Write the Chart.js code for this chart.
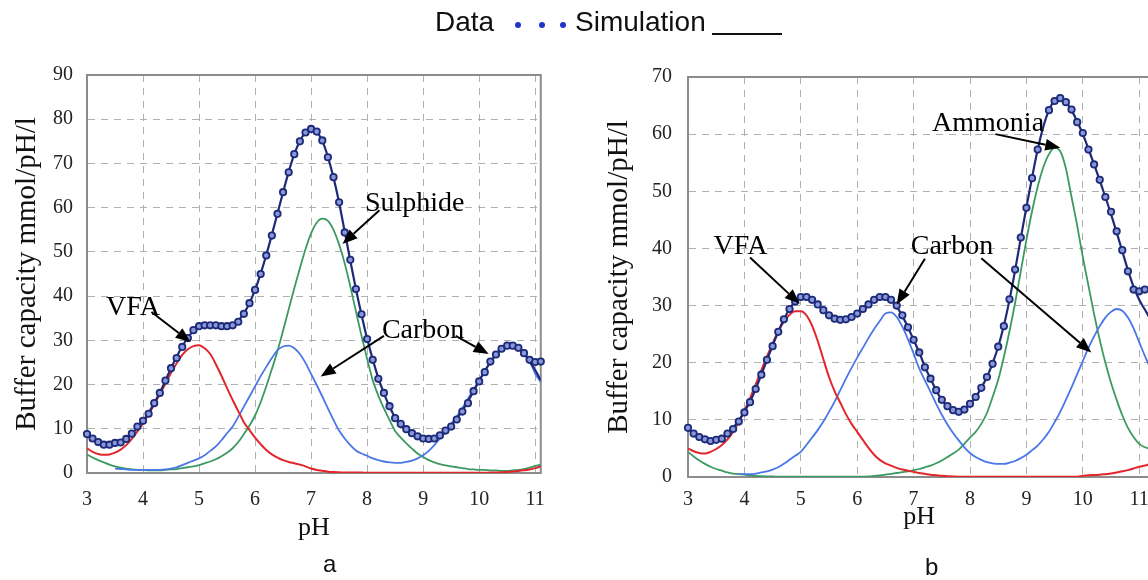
<!DOCTYPE html>
<html>
<head>
<meta charset="utf-8">
<script src="https://cdn.jsdelivr.net/npm/chart.js@4.4.1/dist/chart.umd.min.js"></script>
<style>
  html, body { margin: 0; padding: 0; background: #fff; overflow: hidden; }
  #page { position: relative; width: 1148px; height: 580px; overflow: hidden; }
  canvas { position: absolute; top: 0; }
  #chartA { left: 0; }
  #chartB { left: 580px; }
  .txt { position: absolute; font-family: Arial, 'Liberation Sans', sans-serif; color: #111; white-space: nowrap; }
  .head { font-size: 28px; line-height: 28px; top: 8px; }
  .cap { font-size: 24px; line-height: 24px; }
  .dot { position: absolute; width: 6px; height: 6px; border-radius: 50%; background: #1f35c9; top: 22px; }
  .rule { position: absolute; left: 712px; top: 33px; width: 70px; height: 2px; background: #111; }
</style>
</head>
<body>
<div id="page">
  <canvas id="chartA" width="560" height="580"></canvas>
  <canvas id="chartB" width="590" height="580"></canvas>

  <div class="txt head" style="left:435px">Data</div>
  <div class="dot" style="left:515px"></div>
  <div class="dot" style="left:539px"></div>
  <div class="dot" style="left:560px"></div>
  <div class="txt head" style="left:575px">Simulation</div>
  <div class="rule"></div>

  <div class="txt cap" style="left:323px; top:552px">a</div>
  <div class="txt cap" style="left:925px; top:555px">b</div>
</div>

<script>
// pH values (x axis) for both panels
const PH_A = [3.0, 3.1, 3.2, 3.3, 3.4, 3.5, 3.6, 3.7, 3.8, 3.9,
  4.0, 4.1, 4.2, 4.3, 4.4, 4.5, 4.6, 4.7, 4.8, 4.9,
  5.0, 5.1, 5.2, 5.3, 5.4, 5.5, 5.6, 5.7, 5.8, 5.9,
  6.0, 6.1, 6.2, 6.3, 6.4, 6.5, 6.6, 6.7, 6.8, 6.9,
  7.0, 7.1, 7.2, 7.3, 7.4, 7.5, 7.6, 7.7, 7.8, 7.9,
  8.0, 8.1, 8.2, 8.3, 8.4, 8.5, 8.6, 8.7, 8.8, 8.9,
  9.0, 9.1, 9.2, 9.3, 9.4, 9.5, 9.6, 9.7, 9.8, 9.9,
  10.0, 10.1, 10.2, 10.3, 10.4, 10.5, 10.6, 10.7, 10.8, 10.9,
  11.0, 11.1];
const PH_B = [3.0, 3.1, 3.2, 3.3, 3.4, 3.5, 3.6, 3.7, 3.8, 3.9,
  4.0, 4.1, 4.2, 4.3, 4.4, 4.5, 4.6, 4.7, 4.8, 4.9,
  5.0, 5.1, 5.2, 5.3, 5.4, 5.5, 5.6, 5.7, 5.8, 5.9,
  6.0, 6.1, 6.2, 6.3, 6.4, 6.5, 6.6, 6.7, 6.8, 6.9,
  7.0, 7.1, 7.2, 7.3, 7.4, 7.5, 7.6, 7.7, 7.8, 7.9,
  8.0, 8.1, 8.2, 8.3, 8.4, 8.5, 8.6, 8.7, 8.8, 8.9,
  9.0, 9.1, 9.2, 9.3, 9.4, 9.5, 9.6, 9.7, 9.8, 9.9,
  10.0, 10.1, 10.2, 10.3, 10.4, 10.5, 10.6, 10.7, 10.8, 10.9,
  11.0, 11.1, 11.2];

// panel a: buffer capacity, mmol/pH/l
const DATA_A = [8.8, 7.8, 7.0, 6.4, 6.4, 6.8, 6.9, 7.7, 8.9, 10.5,
  11.8, 13.4, 15.8, 18.1, 20.9, 23.7, 26.0, 28.5, 30.5, 32.3,
  33.2, 33.4, 33.4, 33.4, 33.2, 33.2, 33.4, 34.2, 36.0, 38.4,
  41.4, 45.0, 49.2, 53.7, 58.6, 63.5, 68.0, 72.1, 75.0, 77.0,
  77.8, 77.2, 75.2, 71.4, 66.9, 61.2, 54.4, 48.2, 41.6, 35.9,
  30.3, 25.6, 21.3, 18.1, 15.1, 12.4, 11.1, 9.9, 9.0, 8.3,
  7.8, 7.7, 7.8, 8.5, 9.6, 10.5, 12.1, 13.9, 15.8, 18.5,
  20.7, 22.8, 25.2, 26.8, 28.1, 28.8, 28.8, 28.3, 27.1, 25.6,
  25.1, 25.2];
const SIM_A = [8.6, 7.6, 6.9, 6.5, 6.4, 6.6, 7.1, 7.8, 8.9, 10.2,
  11.8, 13.6, 15.8, 18.2, 20.9, 23.7, 26.3, 28.6, 30.6, 32.1,
  33.0, 33.4, 33.5, 33.4, 33.2, 33.2, 33.6, 34.5, 36.1, 38.4,
  41.4, 45.1, 49.3, 53.9, 58.7, 63.5, 68.1, 72.1, 75.1, 77.0,
  77.7, 77.1, 75.1, 71.5, 66.8, 61.1, 54.6, 48.0, 41.6, 35.8,
  30.4, 25.7, 21.5, 18.0, 15.0, 12.6, 10.9, 9.7, 8.8, 8.2,
  7.8, 7.7, 7.9, 8.4, 9.4, 10.7, 12.3, 14.1, 16.2, 18.5,
  20.8, 23.0, 25.1, 26.8, 28.1, 28.8, 28.8, 28.2, 27.0, 25.2,
  23.3, 21.0];
const VFA_A = [5.6, 4.8, 4.3, 4.1, 4.2, 4.6, 5.3, 6.3, 7.7, 9.4,
  11.2, 13.3, 15.5, 17.8, 20.2, 22.6, 24.8, 26.7, 28.0, 28.7,
  28.9, 28.2, 26.9, 24.6, 22.0, 19.2, 16.5, 14.0, 11.5, 9.7,
  8.0, 6.5, 5.2, 4.2, 3.5, 2.9, 2.5, 2.2, 1.9, 1.5,
  1.0, 0.7, 0.5, 0.3, 0.2, 0.15, 0.1, 0.1, 0.1, 0.1,
  0.05, 0.05, 0.05, 0.05, 0.05, 0.05, 0.05, 0.05, 0.05, 0.05,
  0.05, 0.05, 0.05, 0.05, 0.05, 0.05, 0.05, 0.05, 0.05, 0.05,
  0.05, 0.05, 0.1, 0.1, 0.15, 0.25, 0.35, 0.45, 0.6, 0.8,
  1.1, 1.5];
const CARBON_A = [null, null, null, null, null, 1.0, 0.9, 0.8, 0.7, 0.7,
  0.7, 0.7, 0.7, 0.7, 0.8, 1.0, 1.3, 1.8, 2.3, 2.8,
  3.3, 4.0, 5.0, 6.0, 7.4, 9.0, 10.5, 12.7, 15.0, 17.3,
  19.6, 21.9, 24.0, 26.0, 27.8, 28.6, 28.8, 28.2, 26.9, 24.9,
  22.4, 19.9, 17.3, 14.6, 12.0, 9.6, 7.8, 6.3, 5.1, 4.4,
  3.9, 3.3, 2.9, 2.6, 2.4, 2.3, 2.3, 2.5, 2.8, 3.3,
  4.0, 5.0, 6.3, 7.8, 9.3, 11.1, 12.8, 14.7, 16.8, 18.9,
  21.0, 23.1, 25.0, 26.6, 27.9, 28.6, 28.9, 28.5, 27.3, 25.4,
  22.5, 20.5];
const SULPHIDE_A = [4.2, 3.5, 2.9, 2.4, 1.9, 1.5, 1.2, 1.0, 0.8, 0.7,
  0.7, 0.6, 0.6, 0.6, 0.7, 0.8, 0.9, 1.1, 1.3, 1.5,
  1.8, 2.2, 2.6, 3.1, 3.8, 4.6, 5.6, 7.0, 8.8, 10.7,
  13.0, 16.0, 19.6, 23.5, 27.6, 32.2, 37.0, 41.8, 46.3, 50.6,
  54.2, 56.6, 57.5, 57.0, 55.0, 51.7, 47.4, 42.2, 36.6, 31.0,
  25.8, 21.0, 17.5, 14.6, 12.0, 9.5, 8.0, 6.7, 5.5, 4.4,
  3.6, 2.9, 2.4, 2.0, 1.7, 1.5, 1.3, 1.1, 0.9, 0.8,
  0.7, 0.7, 0.6, 0.6, 0.5, 0.5, 0.6, 0.7, 0.9, 1.2,
  1.6, 1.9];

// panel b
const DATA_B = [8.6, 7.6, 7.0, 6.6, 6.3, 6.5, 6.7, 7.6, 8.4, 9.7,
  11.3, 13.1, 15.4, 17.9, 20.5, 22.9, 25.4, 27.6, 29.4, 30.7,
  31.5, 31.5, 31.0, 30.2, 29.2, 28.3, 27.7, 27.5, 27.6, 28.0,
  28.6, 29.4, 30.2, 31.0, 31.5, 31.5, 31.0, 30.0, 28.3, 26.2,
  24.0, 21.8, 19.2, 17.2, 15.2, 13.5, 12.4, 11.7, 11.4, 11.8,
  12.8, 14.0, 15.6, 17.5, 19.8, 22.8, 26.4, 31.1, 36.3, 41.9,
  47.1, 52.3, 57.3, null, 64.2, 65.8, 66.3, 65.6, 64.3, 62.1,
  60.2, 57.3, 54.7, 52.0, 49.0, 46.4, 43.0, 39.7, 36.0, 32.8,
  32.5, 32.8, null];
const SIM_B = [8.4, 7.6, 7.0, 6.6, 6.4, 6.5, 6.9, 7.6, 8.6, 9.9,
  11.4, 13.2, 15.4, 17.9, 20.5, 23.0, 25.4, 27.6, 29.4, 30.7,
  31.4, 31.5, 31.0, 30.1, 29.1, 28.2, 27.7, 27.5, 27.6, 28.0,
  28.6, 29.4, 30.2, 31.0, 31.5, 31.4, 30.9, 29.8, 28.2, 26.2,
  24.0, 21.8, 19.3, 17.2, 15.2, 13.5, 12.4, 11.7, 11.4, 11.8,
  12.8, 14.0, 15.6, 17.5, 19.9, 22.8, 26.5, 31.0, 36.2, 41.8,
  47.2, 52.4, 57.3, 61.3, 64.2, 65.9, 66.3, 65.6, 64.2, 62.2,
  60.0, 57.4, 54.7, 51.9, 49.0, 46.0, 42.8, 39.5, 36.2, 33.3,
  31.0, 29.3, 27.6];
const VFA_B = [5.0, 4.5, 4.2, 4.1, 4.4, 4.9, 5.6, 6.6, 7.9, 9.6,
  11.6, 13.8, 16.2, 18.7, 21.1, 23.4, 25.5, 27.2, 28.4, 29.0,
  29.0, 28.3, 26.5, 23.8, 20.6, 17.5, 15.0, 13.0, 11.0, 9.3,
  7.9, 6.5, 5.1, 3.9, 3.0, 2.4, 2.0, 1.6, 1.3, 1.1,
  0.9, 0.7, 0.55, 0.4, 0.3, 0.2, 0.15, 0.1, 0.05, 0.05,
  0.05, 0.05, 0.05, 0.05, 0.05, 0.05, 0.05, 0.05, 0.05, 0.05,
  0.05, 0.05, 0.05, 0.05, 0.05, 0.05, 0.05, 0.05, 0.05, 0.05,
  0.2, 0.3, 0.35, 0.4, 0.5, 0.6, 0.8, 1.0, 1.2, 1.5,
  1.8, 2.0, 2.3];
const CARBON_B = [null, null, null, null, null, null, null, null, null, 0.5,
  0.5, 0.5, 0.6, 0.8, 1.0, 1.3, 1.7, 2.3, 3.0, 3.7,
  4.4, 5.6, 6.9, 8.2, 9.7, 11.4, 13.2, 15.2, 17.2, 19.1,
  20.9, 22.6, 24.3, 25.9, 27.3, 28.6, 28.8, 28.0, 26.3, 24.1,
  21.6, 19.0, 16.9, 14.9, 12.8, 10.9, 9.2, 7.7, 6.4, 5.2,
  4.2, 3.5, 3.0, 2.6, 2.4, 2.3, 2.3, 2.5, 2.8, 3.3,
  3.9, 4.7, 5.5, 6.6, 7.9, 9.6, 11.4, 13.5, 15.7, 18.0,
  20.3, 22.6, 24.6, 26.4, 27.9, 28.9, 29.4, 29.1, 27.9, 26.0,
  23.6, 21.2, 19.0];
const AMMONIA_B = [4.4, 3.6, 2.9, 2.3, 1.8, 1.4, 1.1, 0.8, 0.6, 0.5,
  0.4, 0.3, 0.2, 0.15, 0.1, 0.1, 0.05, 0.05, 0.05, 0.05,
  0.05, 0.05, 0.05, 0.05, 0.05, 0.05, 0.05, 0.05, 0.05, 0.05,
  0.05, 0.05, 0.1, 0.2, 0.3, 0.4, 0.55, 0.7, 0.85, 1.0,
  1.2, 1.4, 1.7, 2.0, 2.4, 2.9, 3.5, 4.1, 4.8, 5.8,
  6.9, 7.9, 9.3, 11.2, 14.0, 17.0, 21.0, 25.5, 30.5, 36.0,
  41.5, 46.5, 50.8, 54.2, 56.5, 57.6, 57.0, 54.0, 49.0, 44.0,
  38.5, 33.5, 28.5, 24.0, 20.0, 16.5, 13.5, 10.8, 8.6, 7.0,
  5.8, 5.2, 4.9];

// text labels and arrows, in pH / buffer capacity units
const NOTES_A = [
  { text: 'VFA', x: 3.82, y: 37.4 },
  { text: 'Sulphide', x: 8.85, y: 60.8 },
  { text: 'Carbon', x: 9.0, y: 32.3 }
];
const ARROWS_A = [
  [4.15, 36.4, 4.85, 29.6],
  [8.22, 59.4, 7.56, 51.8],
  [8.3, 31.0, 7.17, 21.8],
  [9.58, 31.0, 10.17, 26.9]
];
const NOTES_B = [
  { text: 'VFA', x: 3.93, y: 40.3 },
  { text: 'Carbon', x: 7.68, y: 40.3 },
  { text: 'Ammonia', x: 8.32, y: 61.8 }
];
const ARROWS_B = [
  [4.1, 38.4, 4.98, 30.3],
  [7.2, 38.2, 6.7, 30.2],
  [8.2, 38.3, 10.15, 21.8],
  [8.45, 60.0, 9.6, 57.6]
];

const SERIF = "'Times New Roman', 'Liberation Serif', serif";

// Пари {x, y} для лінійної осі
const pts = (xs, ys) => xs.map((x, i) => ({ x, y: ys[i] === undefined ? null : ys[i] }));

// Рамка графіка, підписи та стрілки
const notesPlugin = {
  id: 'notes',
  beforeDatasetsDraw(chart) {
    const { ctx, chartArea: a } = chart;
    ctx.save();
    ctx.strokeStyle = '#8c8c8c';
    ctx.lineWidth = 2;
    ctx.strokeRect(a.left, a.top, a.right - a.left, a.bottom - a.top);
    ctx.restore();
  },
  afterDatasetsDraw(chart, args, opts) {
    const { ctx, scales: { x, y } } = chart;
    ctx.save();
    ctx.fillStyle = '#000';
    ctx.strokeStyle = '#000';
    ctx.lineWidth = 2;
    (opts.arrows || []).forEach(([x0, y0, x1, y1]) => {
      const ax = x.getPixelForValue(x0), ay = y.getPixelForValue(y0);
      const bx = x.getPixelForValue(x1), by = y.getPixelForValue(y1);
      const ang = Math.atan2(by - ay, bx - ax);
      const c = Math.cos(ang), s = Math.sin(ang);
      const len = 15, half = 6;
      ctx.beginPath();
      ctx.moveTo(ax, ay);
      ctx.lineTo(bx - len * c, by - len * s);
      ctx.stroke();
      ctx.beginPath();
      ctx.moveTo(bx, by);
      ctx.lineTo(bx - len * c + half * s, by - len * s - half * c);
      ctx.lineTo(bx - len * c - half * s, by - len * s + half * c);
      ctx.closePath();
      ctx.fill();
    });
    ctx.font = '28px ' + SERIF;
    ctx.textAlign = 'center';
    ctx.textBaseline = 'middle';
    (opts.labels || []).forEach(l => {
      ctx.fillText(l.text, x.getPixelForValue(l.x), y.getPixelForValue(l.y));
    });
    ctx.restore();
  }
};

function curve(label, data, color, width) {
  return {
    label, data,
    borderColor: color,
    borderWidth: width,
    pointRadius: 0,
    cubicInterpolationMode: 'monotone',
    spanGaps: false
  };
}

function makeChart(id, cfg) {
  return new Chart(document.getElementById(id), {
    type: 'line',
    data: {
      datasets: [
        {
          label: 'Data',
          data: pts(cfg.ph, cfg.data),
          showLine: false,
          pointRadius: 3.2,
          pointBorderWidth: 1.8,
          pointBackgroundColor: '#8a98da',
          pointBorderColor: '#1d2a78',
          clip: false
        },
        Object.assign(curve('Simulation', pts(cfg.ph, cfg.sim), '#1d2a78', 2.2), { spanGaps: true }),
        curve('VFA', pts(cfg.ph, cfg.vfa), '#e3262b', 2),
        curve('Carbon', pts(cfg.ph, cfg.carbon), '#4a76e8', 1.8),
        curve(cfg.thirdName, pts(cfg.ph, cfg.third), '#3b9a62', 1.8)
      ]
    },
    options: {
      responsive: false,
      animation: false,
      events: [],
      layout: { padding: cfg.pad },
      plugins: {
        legend: { display: false },
        tooltip: { enabled: false },
        notes: { labels: cfg.notes, arrows: cfg.arrows }
      },
      scales: {
        x: {
          type: 'linear',
          min: 3,
          max: cfg.xMax,
          afterFit: s => { s.height = cfg.xH; },
          ticks: {
            stepSize: 1,
            includeBounds: false,
            padding: cfg.xPad,
            maxRotation: 0,
            color: '#222',
            font: { family: SERIF, size: 20 }
          },
          grid: { color: '#b0b0b0', lineWidth: 1, drawTicks: false },
          border: { color: '#8c8c8c', width: 2, dash: [7, 6] },
          title: {
            display: true,
            text: 'pH',
            color: '#111',
            font: { family: SERIF, size: 26 },
            padding: 0
          }
        },
        y: {
          min: 0,
          max: cfg.yMax,
          afterFit: s => { s.width = cfg.yW; },
          ticks: {
            stepSize: 10,
            padding: cfg.yPad,
            color: '#222',
            font: { family: SERIF, size: 20 }
          },
          grid: { color: '#b0b0b0', lineWidth: 1, drawTicks: false },
          border: { color: '#8c8c8c', width: 2, dash: [7, 6] },
          title: {
            display: true,
            text: 'Buffer capacity mmol/pH/l',
            color: '#111',
            font: { family: SERIF, size: 29 },
            padding: { top: cfg.yTitlePad, bottom: 0 }
          }
        }
      }
    },
    plugins: [notesPlugin]
  });
}

makeChart('chartA', {
  ph: PH_A, data: DATA_A, sim: SIM_A, vfa: VFA_A, carbon: CARBON_A,
  third: SULPHIDE_A, thirdName: 'Sulphide',
  notes: NOTES_A, arrows: ARROWS_A,
  xMax: 11.1, yMax: 90,
  pad: { left: 0, top: 75, right: 15, bottom: 36 },
  xH: 71, yW: 87, xPad: 15, yPad: 14, yTitlePad: 10
});

makeChart('chartB', {
  ph: PH_B, data: DATA_B, sim: SIM_B, vfa: VFA_B, carbon: CARBON_B,
  third: AMMONIA_B, thirdName: 'Ammonia',
  notes: NOTES_B, arrows: ARROWS_B,
  xMax: 11.2, yMax: 70,
  pad: { left: 0, top: 77, right: 19.5, bottom: 47 },
  xH: 56, yW: 108, xPad: 11, yPad: 16, yTitlePad: 22
});
</script>
</body>
</html>
